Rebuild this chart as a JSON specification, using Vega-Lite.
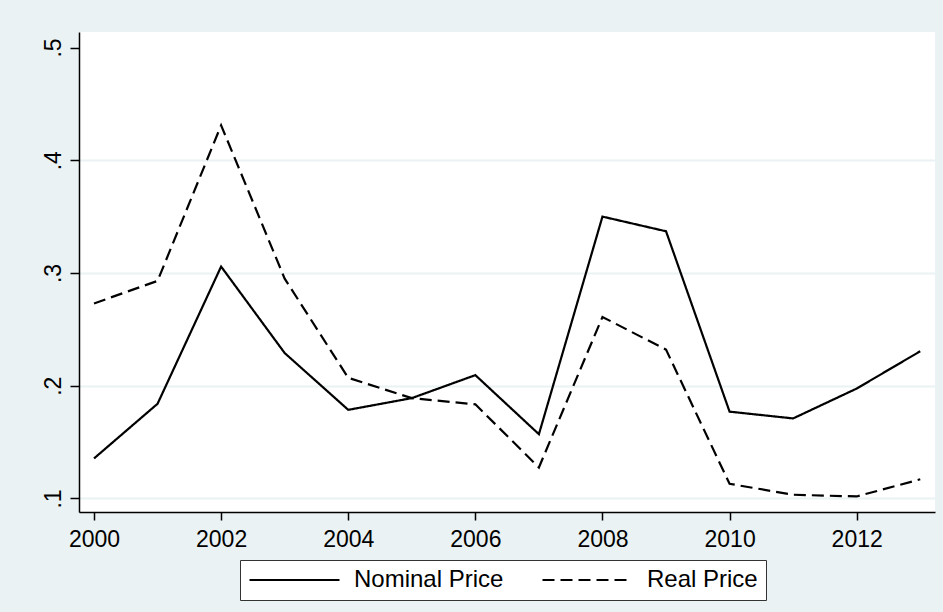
{
  "$schema": "https://vega.github.io/schema/vega-lite/v6.json",
  "width": 856,
  "height": 480,
  "autosize": {"type": "none"},
  "padding": {"left": 79, "top": 32, "right": 8, "bottom": 100},
  "background": "#EAF2F3",
  "config": {
    "view": {"fill": "white", "stroke": null},
    "font": "Liberation Sans",
    "axis": {
      "domainColor": "black",
      "domainWidth": 1.5,
      "tickColor": "black",
      "tickWidth": 1.5,
      "labelColor": "black",
      "labelFont": "Liberation Sans",
      "labelFontSize": 23,
      "title": null
    }
  },
  "data": {
    "values": [
      {"year": 2000, "series": "Nominal Price", "value": 0.1355},
      {"year": 2001, "series": "Nominal Price", "value": 0.184},
      {"year": 2002, "series": "Nominal Price", "value": 0.3057},
      {"year": 2003, "series": "Nominal Price", "value": 0.229},
      {"year": 2004, "series": "Nominal Price", "value": 0.1786},
      {"year": 2005, "series": "Nominal Price", "value": 0.189},
      {"year": 2006, "series": "Nominal Price", "value": 0.2094},
      {"year": 2007, "series": "Nominal Price", "value": 0.157},
      {"year": 2008, "series": "Nominal Price", "value": 0.350},
      {"year": 2009, "series": "Nominal Price", "value": 0.337},
      {"year": 2010, "series": "Nominal Price", "value": 0.177},
      {"year": 2011, "series": "Nominal Price", "value": 0.171},
      {"year": 2012, "series": "Nominal Price", "value": 0.1975},
      {"year": 2013, "series": "Nominal Price", "value": 0.2306},
      {"year": 2000, "series": "Real Price", "value": 0.273},
      {"year": 2001, "series": "Real Price", "value": 0.293},
      {"year": 2002, "series": "Real Price", "value": 0.431},
      {"year": 2003, "series": "Real Price", "value": 0.295},
      {"year": 2004, "series": "Real Price", "value": 0.207},
      {"year": 2005, "series": "Real Price", "value": 0.189},
      {"year": 2006, "series": "Real Price", "value": 0.1835},
      {"year": 2007, "series": "Real Price", "value": 0.1275},
      {"year": 2008, "series": "Real Price", "value": 0.261},
      {"year": 2009, "series": "Real Price", "value": 0.232},
      {"year": 2010, "series": "Real Price", "value": 0.113},
      {"year": 2011, "series": "Real Price", "value": 0.1033},
      {"year": 2012, "series": "Real Price", "value": 0.1018},
      {"year": 2013, "series": "Real Price", "value": 0.117}
    ]
  },
  "mark": {"type": "line", "color": "black", "strokeWidth": 2.2},
  "encoding": {
    "x": {
      "field": "year",
      "type": "quantitative",
      "scale": {"domain": [1999.764, 2013.232], "nice": false, "zero": false},
      "axis": {
        "values": [2000, 2002, 2004, 2006, 2008, 2010, 2012],
        "format": "d",
        "grid": false,
        "tickSize": 8,
        "labelPadding": 8,
        "labelFlush": false,
        "labelOverlap": false
      }
    },
    "y": {
      "field": "value",
      "type": "quantitative",
      "scale": {"domain": [0.088, 0.51375], "nice": false, "zero": false},
      "axis": {
        "values": [0.1, 0.2, 0.3, 0.4, 0.5],
        "labelExpr": "replace(format(datum.value, '.1f'), '0.', '.')",
        "labelAngle": 270,
        "labelAlign": "center",
        "labelBaseline": "alphabetic",
        "labelPadding": 10,
        "tickSize": 9,
        "labelFlush": false,
        "labelOverlap": false,
        "grid": true,
        "gridColor": "#EAF2F3",
        "gridWidth": 2,
        "gridOpacity": {"condition": {"test": "datum.value > 0.45", "value": 0}, "value": 1}
      }
    },
    "strokeDash": {
      "field": "series",
      "type": "nominal",
      "scale": {"domain": ["Nominal Price", "Real Price"], "range": [[1, 0], [12, 6]]},
      "legend": {
        "title": null,
        "orient": "none",
        "legendX": 161,
        "legendY": 528,
        "direction": "horizontal",
        "fillColor": "white",
        "strokeColor": "#333333",
        "padding": 8,
        "symbolType": "stroke",
        "symbolSize": 8100,
        "symbolStrokeWidth": 2.2,
        "symbolStrokeColor": "black",
        "clipHeight": 24,
        "labelOffset": 13,
        "labelFont": "Liberation Sans",
        "labelFontSize": 24,
        "labelColor": "black",
        "labelLimit": 400,
        "columnPadding": 37
      }
    }
  }
}
